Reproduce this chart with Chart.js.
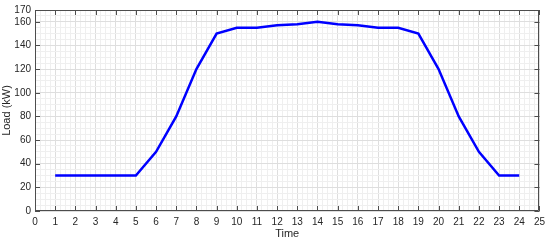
<!DOCTYPE html>
<html>
<head>
<meta charset="utf-8">
<script src="https://cdn.jsdelivr.net/npm/chart.js@4"></script>
<style>
html,body{margin:0;padding:0;background:#fff;}
canvas{display:block;}
</style>
</head>
<body>
<canvas id="c" width="550" height="241"></canvas>
<script>
const times = [1,2,3,4,5,6,7,8,9,10,11,12,13,14,15,16,17,18,19,20,21,22,23,24];
const load = [30,30,30,30,30,50,80,120,150,155,155,157,158,160,158,157,155,155,150,120,80,50,30,30];
const xTickLabels = [0,1,2,3,4,5,6,7,8,9,10,11,12,13,14,15,16,17,18,19,20,21,22,23,24,25];
const yTickLabels = [0,20,40,60,80,100,120,140,160,170];

Chart.defaults.font.family = "'Liberation Sans', Arial, sans-serif";
Chart.defaults.font.size = 10;
Chart.defaults.color = '#262626';

const majorGrid = '#dedede';
const minorGrid = '#efefef';
const axisColor = '#4d4d4d';

const boxTicks = {
  id: 'boxTicks',
  afterDraw(chart) {
    const {ctx, chartArea: a, scales: {x, y}} = chart;
    ctx.save();
    ctx.strokeStyle = axisColor;
    ctx.lineWidth = 1;
    ctx.beginPath();
    ctx.rect(Math.round(a.left) + 0.5, Math.round(a.top) + 0.5, Math.round(a.right - a.left) - 1, Math.round(a.bottom - a.top) - 1);
    ctx.stroke();
    ctx.beginPath();
    const L = 5;
    xTickLabels.forEach(v => {
      const px = Math.round(x.getPixelForValue(v)) + 0.5;
      ctx.moveTo(px, a.bottom); ctx.lineTo(px, a.bottom - L);
      ctx.moveTo(px, a.top); ctx.lineTo(px, a.top + L);
    });
    yTickLabels.forEach(v => {
      const py = Math.round(y.getPixelForValue(v)) + 0.5;
      ctx.moveTo(a.left, py); ctx.lineTo(a.left + L, py);
      ctx.moveTo(a.right, py); ctx.lineTo(a.right - L, py);
    });
    ctx.stroke();
    ctx.restore();
  }
};

new Chart(document.getElementById('c'), {
  type: 'line',
  data: {
    datasets: [{
      data: times.map((t, i) => ({x: t, y: load[i]})),
      borderColor: '#0000ff',
      borderWidth: 2.5,
      pointRadius: 0,
      tension: 0,
      fill: false
    }]
  },
  options: {
    responsive: false,
    animation: false,
    devicePixelRatio: 1,
    layout: {padding: {top: 5, right: 7, left: 0, bottom: 0}},
    plugins: {legend: {display: false}, tooltip: {enabled: false}},
    scales: {
      x: {
        type: 'linear', min: 0, max: 25,
        afterFit: s => { s.height = 30; },
        border: {display: false},
        grid: {
          drawTicks: false,
          color: c => (c.tick && Number.isInteger(c.tick.value)) ? majorGrid : minorGrid
        },
        ticks: {
          stepSize: 0.25, autoSkip: false, maxRotation: 0, padding: 5,
          callback: v => xTickLabels.includes(v) ? String(v) : ''
        },
        title: {display: true, text: 'Time', font: {size: 11}, padding: {top: 0, bottom: 0}}
      },
      y: {
        type: 'linear', min: 0, max: 170,
        afterFit: s => { s.width = 35; },
        border: {display: false},
        grid: {
          drawTicks: false,
          color: c => (c.tick && yTickLabels.includes(c.tick.value)) ? majorGrid : minorGrid
        },
        ticks: {
          stepSize: 5, autoSkip: false, padding: 4,
          callback: v => yTickLabels.includes(v) ? String(v) : ''
        },
        title: {display: true, text: 'Load (kW)', font: {size: 11}, padding: {top: 0, bottom: 0}}
      }
    }
  },
  plugins: [boxTicks]
});
</script>
</body>
</html>
